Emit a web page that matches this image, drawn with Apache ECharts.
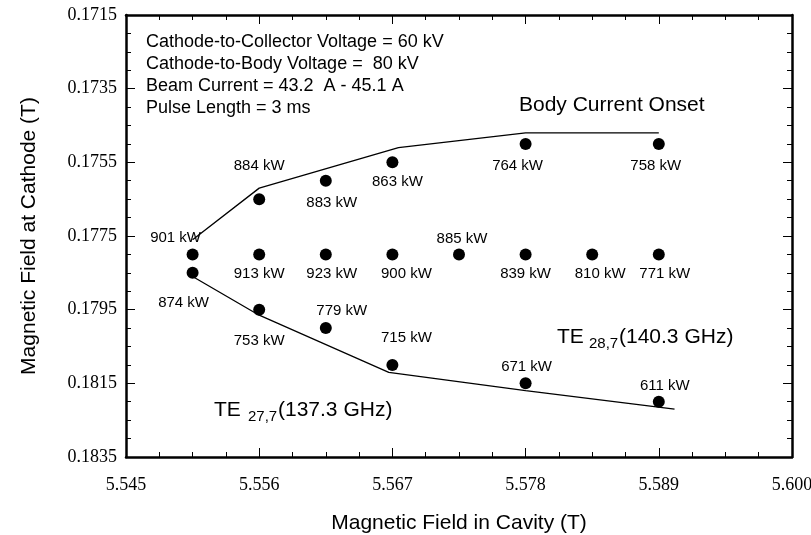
<!DOCTYPE html>
<html>
<head>
<meta charset="utf-8">
<script src="https://cdn.jsdelivr.net/npm/echarts@6/dist/echarts.min.js"></script>
<style>html,body{margin:0;padding:0;background:#fff}#c{width:811px;height:535px}</style>
</head>
<body>
<div id="c"></div>
<script>
// ---- data ----
const xTickLabels = [5.545, 5.556, 5.567, 5.578, 5.589, 5.600];
const yTickLabels = [0.1715, 0.1735, 0.1755, 0.1775, 0.1795, 0.1815, 0.1835];

const pointX  = [5.5505, 5.556, 5.5615, 5.567, 5.5725, 5.578, 5.5835, 5.589,
                 5.5505, 5.556, 5.5615, 5.567, 5.578, 5.589,
                 5.556, 5.5615, 5.567, 5.578, 5.589];
const pointY  = [0.1780, 0.1780, 0.1780, 0.1780, 0.1780, 0.1780, 0.1780, 0.1780,
                 0.1785, 0.1795, 0.1800, 0.1810, 0.1815, 0.1820,
                 0.1765, 0.1760, 0.1755, 0.1750, 0.1750];
const pointKW = [901, 913, 923, 900, 885, 839, 810, 771,
                 874, 753, 779, 715, 671, 611,
                 884, 883, 863, 764, 758];

const onsetX = [5.5505, 5.556, 5.5675, 5.578, 5.589];
const onsetY = [0.1776, 0.1762, 0.1751, 0.1747, 0.1747];
const lowerX = [5.5505, 5.556, 5.5667, 5.578, 5.5903];
const lowerY = [0.1786, 0.17965, 0.1812, 0.1817, 0.1822];

// ---- label placement (layout only) ----
const labelOffsets = [[-17,-17],[0,19],[6,19],[14,19],[3,-16],[0,19],[8,19],[6,19],
                      [-9,30],[0,31],[16,-17],[14,-27],[1,-16],[6,-16],
                      [0,-33],[6,22],[5,20],[-8,22],[-3,22]];

const SANS = '"Liberation Sans", Arial, sans-serif';
const SERIF = '"Liberation Serif", "Times New Roman", serif';

const scatterData = pointX.map((x, i) => ({
  value: [x, pointY[i]],
  label: { offset: labelOffsets[i] }
}));

const axisLineStyle = { color: '#000', width: 2.5 };
const tickStyle = { show: true, inside: true, length: 9, lineStyle: { color: '#000', width: 1 } };
const minorStyle = { show: true, splitNumber: 4, length: 5, lineStyle: { color: '#000', width: 1 } };

const xBase = {
  type: 'value', min: xTickLabels[0], max: xTickLabels[xTickLabels.length - 1],
  interval: xTickLabels[1] - xTickLabels[0],
  axisLine: { show: true, onZero: false, lineStyle: axisLineStyle },
  axisTick: tickStyle, minorTick: minorStyle,
  splitLine: { show: false }, minorSplitLine: { show: false }
};
const yBase = {
  type: 'value', min: yTickLabels[0], max: yTickLabels[yTickLabels.length - 1], inverse: true,
  interval: yTickLabels[1] - yTickLabels[0],
  axisLine: { show: true, onZero: false, lineStyle: axisLineStyle },
  axisTick: tickStyle, minorTick: minorStyle,
  splitLine: { show: false }, minorSplitLine: { show: false }
};

const option = {
  animation: false,
  backgroundColor: '#fff',
  grid: { left: 126, right: 19, top: 15, bottom: 78, containLabel: false, outerBoundsMode: 'none' },
  xAxis: [
    Object.assign({}, xBase, {
      position: 'bottom',
      name: 'Magnetic Field in Cavity (T)',
      nameLocation: 'middle', nameGap: 56,
      nameTextStyle: { fontFamily: SANS, fontSize: 21, color: '#000' },
      axisLabel: { show: true, margin: 19,
        formatter: v => v.toFixed(3), fontFamily: SERIF, fontSize: 18, color: '#000' }
    }),
    Object.assign({}, xBase, { position: 'top', axisLabel: { show: false } })
  ],
  yAxis: [
    Object.assign({}, yBase, {
      position: 'left',
      name: 'Magnetic Field at Cathode (T)',
      nameLocation: 'middle', nameGap: 86, nameRotate: 90,
      nameTextStyle: { fontFamily: SANS, fontSize: 21, color: '#000' },
      axisLabel: { show: true, margin: 9,
        formatter: v => v.toFixed(4), fontFamily: SERIF, fontSize: 18, color: '#000' }
    }),
    Object.assign({}, yBase, { position: 'right', axisLabel: { show: false } })
  ],
  series: [
    {
      type: 'line', xAxisIndex: 0, yAxisIndex: 0,
      data: onsetX.map((x, i) => [x, onsetY[i]]),
      symbol: 'none', lineStyle: { color: '#000', width: 1.3 }, silent: true
    },
    {
      type: 'line', xAxisIndex: 0, yAxisIndex: 0,
      data: lowerX.map((x, i) => [x, lowerY[i]]),
      symbol: 'none', lineStyle: { color: '#000', width: 1.3 }, silent: true
    },
    {
      type: 'scatter', xAxisIndex: 0, yAxisIndex: 0,
      data: scatterData, symbol: 'circle', symbolSize: 12,
      itemStyle: { color: '#000', opacity: 1 },
      label: {
        show: true, position: 'inside', align: 'center', verticalAlign: 'middle',
        formatter: p => pointKW[p.dataIndex] + ' kW',
        fontFamily: SANS, fontSize: 15, color: '#000'
      }
    }
  ],
  graphic: [
    { type: 'text', x: 146, y: 42, style: { text: 'Cathode-to-Collector Voltage = 60 kV', font: '18px ' + SANS, fill: '#000', verticalAlign: 'middle' } },
    { type: 'text', x: 146, y: 64, style: { text: 'Cathode-to-Body Voltage =  80 kV', font: '18px ' + SANS, fill: '#000', verticalAlign: 'middle' } },
    { type: 'text', x: 146, y: 86, style: { text: 'Beam Current = 43.2  A - 45.1 A', font: '18px ' + SANS, fill: '#000', verticalAlign: 'middle' } },
    { type: 'text', x: 146, y: 108, style: { text: 'Pulse Length = 3 ms', font: '18px ' + SANS, fill: '#000', verticalAlign: 'middle' } },
    { type: 'text', x: 519, y: 105, style: { text: 'Body Current Onset', font: '21px ' + SANS, fill: '#000', verticalAlign: 'middle' } },
    { type: 'text', x: 557, y: 337, style: { text: 'TE', font: '21px ' + SANS, fill: '#000', verticalAlign: 'middle' } },
    { type: 'text', x: 589, y: 344, style: { text: '28,7', font: '15px ' + SANS, fill: '#000', verticalAlign: 'middle' } },
    { type: 'text', x: 619, y: 337, style: { text: '(140.3 GHz)', font: '21px ' + SANS, fill: '#000', verticalAlign: 'middle' } },
    { type: 'text', x: 214, y: 410, style: { text: 'TE', font: '21px ' + SANS, fill: '#000', verticalAlign: 'middle' } },
    { type: 'text', x: 248, y: 417, style: { text: '27,7', font: '15px ' + SANS, fill: '#000', verticalAlign: 'middle' } },
    { type: 'text', x: 278, y: 410, style: { text: '(137.3 GHz)', font: '21px ' + SANS, fill: '#000', verticalAlign: 'middle' } }
  ]
};

const chart = echarts.init(document.getElementById('c'), null, { renderer: 'canvas' });
chart.setOption(option);
</script>
</body>
</html>
